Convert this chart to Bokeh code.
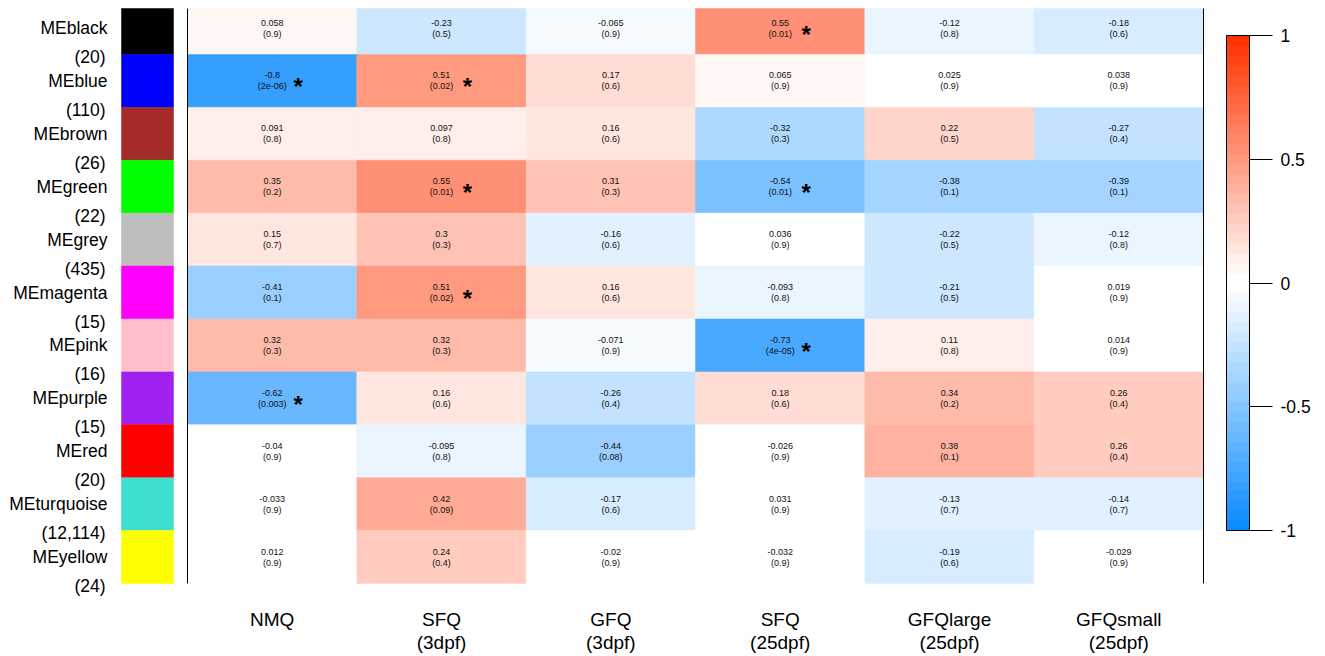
from bokeh.plotting import figure
from bokeh.models import Range1d, ColumnDataSource, LinearColorMapper, ColorBar, FixedTicker
from bokeh.transform import transform
from bokeh.core.properties import value
from bokeh.embed import file_html
from bokeh.resources import INLINE

# ---------------- data ----------------
modules = ["MEblack", "MEblue", "MEbrown", "MEgreen", "MEgrey", "MEmagenta",
           "MEpink", "MEpurple", "MEred", "MEturquoise", "MEyellow"]
module_sizes = ["(20)", "(110)", "(26)", "(22)", "(435)", "(15)",
                "(16)", "(15)", "(20)", "(12,114)", "(24)"]
module_colors = ["#000000", "#0000FF", "#A52A2A", "#00FF00", "#BEBEBE", "#FF00FF",
                 "#FFC0CB", "#A020F0", "#FF0000", "#40E0D0", "#FFFF00"]

traits = ["NMQ", "SFQ", "GFQ", "SFQ", "GFQlarge", "GFQsmall"]
trait_stages = ["", "(3dpf)", "(3dpf)", "(25dpf)", "(25dpf)", "(25dpf)"]

corr = [
    [0.058, -0.23, -0.065, 0.55, -0.12, -0.18],
    [-0.8, 0.51, 0.17, 0.065, 0.025, 0.038],
    [0.091, 0.097, 0.16, -0.32, 0.22, -0.27],
    [0.35, 0.55, 0.31, -0.54, -0.38, -0.39],
    [0.15, 0.3, -0.16, 0.036, -0.22, -0.12],
    [-0.41, 0.51, 0.16, -0.093, -0.21, 0.019],
    [0.32, 0.32, -0.071, -0.73, 0.11, 0.014],
    [-0.62, 0.16, -0.26, 0.18, 0.34, 0.26],
    [-0.04, -0.095, -0.44, -0.026, 0.38, 0.26],
    [-0.033, 0.42, -0.17, 0.031, -0.13, -0.14],
    [0.012, 0.24, -0.02, -0.032, -0.19, -0.029],
]
pvals = [
    [0.9, 0.5, 0.9, 0.01, 0.8, 0.6],
    [2e-06, 0.02, 0.6, 0.9, 0.9, 0.9],
    [0.8, 0.8, 0.6, 0.3, 0.5, 0.4],
    [0.2, 0.01, 0.3, 0.01, 0.1, 0.1],
    [0.7, 0.3, 0.6, 0.9, 0.5, 0.8],
    [0.1, 0.02, 0.6, 0.8, 0.5, 0.9],
    [0.3, 0.3, 0.9, 4e-05, 0.8, 0.9],
    [0.003, 0.6, 0.4, 0.6, 0.2, 0.4],
    [0.9, 0.8, 0.08, 0.9, 0.1, 0.4],
    [0.9, 0.09, 0.6, 0.9, 0.7, 0.7],
    [0.9, 0.4, 0.9, 0.9, 0.6, 0.9],
]
cbar_ticks = [-1, -0.5, 0, 0.5, 1]
cbar_labels = ["-1", "-0.5", "0", "0.5", "1"]

# ---------------- layout constants (pixels) ----------------
W, H = 1320, 655
PAGE = 0
LEFT = 187          # page x of heatmap left edge
RIGHT = 1203        # page x of heatmap right edge
BASE = 583          # page y of heatmap bottom
NROW, NCOL = len(modules), len(traits)
COLW = (RIGHT - LEFT) / NCOL
ROWH = 52.9
CLIP_TOP = 8        # heatmap visible from this page y

x_start = (PAGE - LEFT) / COLW
x_end = x_start + W / COLW
y_end = (BASE - PAGE) / ROWH
y_start = y_end - H / ROWH

def px_x(page_x):
    return (page_x - LEFT) / COLW

def px_y(page_y):
    return (BASE - page_y) / ROWH

top_vis = min(NROW, px_y(CLIP_TOP))

# palette: blue -> white (25 steps), white -> red (25 steps)
blue_end = (0.05, 0.55, 1.0)
red_end = (1.0, 0.2, 0.0)
half = 25
palette = []
for k in range(half):
    f = k / (half - 1)
    rgb = [b + (1 - b) * f for b in blue_end]
    palette.append("#%02x%02x%02x" % tuple(int(round(c * 255)) for c in rgb))
for m in range(half):
    f = 1 - m / (half - 1)
    rgb = [r + (1 - r) * f for r in red_end]
    palette.append("#%02x%02x%02x" % tuple(int(round(c * 255)) for c in rgb))
mapper = LinearColorMapper(palette=palette, low=-1, high=1)

# ---------------- sources ----------------
xs, ys, rs, rtxt, ptxt, stars_x, stars_y = [], [], [], [], [], [], []
for i in range(NROW):
    for j in range(NCOL):
        cx = j + 0.5
        cy = NROW - 1 - i + 0.5
        xs.append(cx)
        ys.append(cy)
        rs.append(corr[i][j])
        rtxt.append(str(corr[i][j]))
        ptxt.append("(" + str(pvals[i][j]) + ")")
        if pvals[i][j] < 0.05:
            stars_x.append(cx)
            stars_y.append(cy)
cells = ColumnDataSource(dict(
    l=[x - 0.5 for x in xs], r_=[x + 0.5 for x in xs],
    b=[y - 0.5 for y in ys], t=[min(y + 0.5, top_vis) for y in ys],
    x=xs, y=ys, r=rs, rt=rtxt, pt=ptxt))

row_centers = [NROW - 1 - i + 0.5 for i in range(NROW)]

FONT = value("Liberation Sans")

p = figure(width=W, height=H, x_range=Range1d(x_start, x_end), y_range=Range1d(y_start, y_end),
           output_backend="svg", toolbar_location=None, min_border=0,
           x_axis_location=None, y_axis_location=None)
p.grid.visible = False
p.outline_line_color = None
p.background_fill_color = "white"

# heatmap cells
p.quad(left="l", right="r_", bottom="b", top="t", source=cells,
       fill_color=transform("r", mapper), line_color=transform("r", mapper), line_width=0.5)

# cell texts
p.text("x", "y", text="rt", source=cells, text_font=FONT, text_font_size="9px",
       text_align="center", text_baseline="middle", y_offset=-5.5, text_color="#111111")
p.text("x", "y", text="pt", source=cells, text_font=FONT, text_font_size="9px",
       text_align="center", text_baseline="middle", y_offset=5.5, text_color="#111111")
p.text(stars_x, stars_y, text=["*"] * len(stars_x), text_font=FONT, text_font_size="24px",
       text_font_style="bold", text_align="center", text_baseline="middle",
       x_offset=26, y_offset=6, text_color="black")

# border lines
p.segment(x0=[0, NCOL], x1=[0, NCOL], y0=[0, 0], y1=[top_vis, top_vis],
          line_color="black", line_width=1)

# module swatches
p.quad(left=px_x(121), right=px_x(173),
       bottom=[c - 0.5 for c in row_centers], top=[min(c + 0.5, top_vis) for c in row_centers],
       fill_color=module_colors, line_color=module_colors, line_width=0.5)

# row labels
p.text([px_x(107)] * NROW, row_centers, text=modules, text_font=FONT, text_font_size="17.5px",
       text_align="right", text_baseline="middle", text_color="black")
p.text([px_x(105)] * NROW, row_centers, text=module_sizes, text_font=FONT, text_font_size="17.5px",
       text_align="right", text_baseline="middle", y_offset=29, text_color="black")

# column labels
col_centers = [j + 0.5 for j in range(NCOL)]
p.text(col_centers, [px_y(619)] * NCOL, text=traits, text_font=FONT, text_font_size="19px",
       text_align="center", text_baseline="middle", text_color="black")
p.text(col_centers, [px_y(642)] * NCOL, text=trait_stages, text_font=FONT, text_font_size="19px",
       text_align="center", text_baseline="middle", text_color="black")

# color bar
cb = ColorBar(color_mapper=mapper, ticker=FixedTicker(ticks=cbar_ticks),
              major_label_overrides={t: l for t, l in zip(cbar_ticks, cbar_labels)},
              width=23, height=495, location=(1226 - PAGE, PAGE + H - 530),
              padding=0, major_tick_in=0, major_tick_out=23, major_tick_line_color="black",
              bar_line_color="black", label_standoff=8,
              major_label_text_font="Liberation Sans", major_label_text_font_size="17.5px",
              major_label_text_color="black",
              background_fill_alpha=0, border_line_color=None)
p.add_layout(cb)

open("out.html", "w").write(file_html(p, INLINE))
